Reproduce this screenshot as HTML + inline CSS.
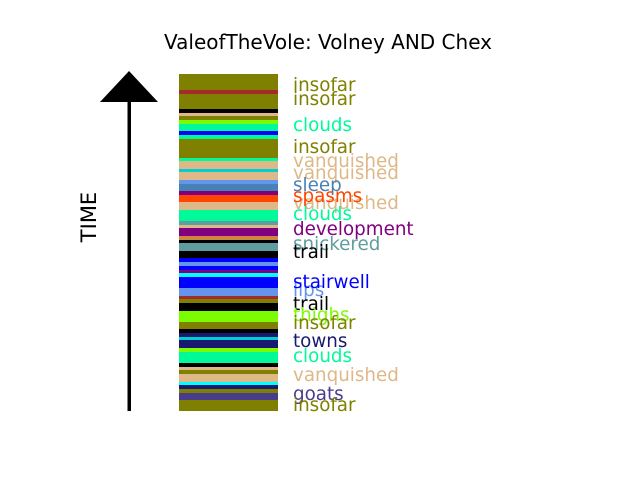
<!DOCTYPE html>
<html><head><meta charset="utf-8"><style>body{margin:0;background:#fff}svg{display:block}</style></head><body>
<svg width="640" height="480" xmlns="http://www.w3.org/2000/svg" font-family="DejaVu Sans, sans-serif">
<rect width="640" height="480" fill="#fff"/>
<text x="328" y="49" font-size="20" text-anchor="middle">ValeofTheVole: Volney AND Chex</text>
<text transform="translate(96,217) rotate(-90)" font-size="21" text-anchor="middle">TIME</text>
<rect x="127.5" y="100" width="3.5" height="311" fill="#000"/>
<polygon points="100,102 158,102 129,71" fill="#000"/>
<g>
<rect x="179" y="74" width="99" height="337" fill="#808000"/>
<rect x="179" y="90" width="99" height="4" fill="#a52a2a"/>
<rect x="179" y="109" width="99" height="4" fill="#000"/>
<rect x="179" y="113" width="99" height="3" fill="#deb887"/>
<rect x="179" y="120" width="99" height="4" fill="#7cfc00"/>
<rect x="179" y="124" width="99" height="7" fill="#00fa9a"/>
<rect x="179" y="131" width="99" height="4" fill="#0000ff"/>
<rect x="179" y="135" width="99" height="4" fill="#00fa9a"/>
<rect x="179" y="158" width="99" height="3" fill="#00fa9a"/>
<rect x="179" y="161" width="99" height="8" fill="#deb887"/>
<rect x="179" y="169" width="99" height="3" fill="#00ced1"/>
<rect x="179" y="172" width="99" height="8" fill="#deb887"/>
<rect x="179" y="180" width="99" height="4" fill="#6495ed"/>
<rect x="179" y="184" width="99" height="7" fill="#4682b4"/>
<rect x="179" y="191" width="99" height="4" fill="#800080"/>
<rect x="179" y="195" width="99" height="7" fill="#ff4500"/>
<rect x="179" y="202" width="99" height="8" fill="#deb887"/>
<rect x="179" y="210" width="99" height="11" fill="#00fa9a"/>
<rect x="179" y="221" width="99" height="4" fill="#5f9ea0"/>
<rect x="179" y="225" width="99" height="3" fill="#deb887"/>
<rect x="179" y="228" width="99" height="8" fill="#800080"/>
<rect x="179" y="236" width="99" height="4" fill="#cd853f"/>
<rect x="179" y="240" width="99" height="3" fill="#000"/>
<rect x="179" y="243" width="99" height="8" fill="#5f9ea0"/>
<rect x="179" y="251" width="99" height="7" fill="#000"/>
<rect x="179" y="258" width="99" height="4" fill="#0000ff"/>
<rect x="179" y="262" width="99" height="4" fill="#6495ed"/>
<rect x="179" y="266" width="99" height="4" fill="#0000ff"/>
<rect x="179" y="270" width="99" height="3" fill="#800080"/>
<rect x="179" y="273" width="99" height="4" fill="#00ffff"/>
<rect x="179" y="277" width="99" height="11" fill="#0000ff"/>
<rect x="179" y="288" width="99" height="8" fill="#6495ed"/>
<rect x="179" y="296" width="99" height="3" fill="#a52a2a"/>
<rect x="179" y="303" width="99" height="8" fill="#000"/>
<rect x="179" y="311" width="99" height="11" fill="#7cfc00"/>
<rect x="179" y="329" width="99" height="4" fill="#000"/>
<rect x="179" y="333" width="99" height="4" fill="#191970"/>
<rect x="179" y="337" width="99" height="3" fill="#00ced1"/>
<rect x="179" y="340" width="99" height="8" fill="#191970"/>
<rect x="179" y="348" width="99" height="4" fill="#7cfc00"/>
<rect x="179" y="352" width="99" height="11" fill="#00fa9a"/>
<rect x="179" y="363" width="99" height="4" fill="#000"/>
<rect x="179" y="367" width="99" height="3" fill="#deb887"/>
<rect x="179" y="374" width="99" height="8" fill="#deb887"/>
<rect x="179" y="382" width="99" height="3" fill="#00ffff"/>
<rect x="179" y="385" width="99" height="4" fill="#191970"/>
<rect x="179" y="393" width="99" height="7" fill="#483d8b"/>
</g>
<g font-size="18.3">
<text x="293" y="91" fill="#808000">insofar</text>
<text x="293" y="105" fill="#808000">insofar</text>
<text x="293" y="131" fill="#00fa9a">clouds</text>
<text x="293" y="153" fill="#808000">insofar</text>
<text x="293" y="167" fill="#deb887">vanquished</text>
<text x="293" y="179" fill="#deb887">vanquished</text>
<text x="293" y="191" fill="#4682b4">sleep</text>
<text x="293" y="209" fill="#deb887">vanquished</text>
<text x="293" y="202" fill="#ff4500">spasms</text>
<text x="293" y="220" fill="#00fa9a">clouds</text>
<text x="293" y="235" fill="#800080">development</text>
<text x="293" y="250" fill="#5f9ea0">snickered</text>
<text x="293" y="258" fill="#000">trail</text>
<text x="293" y="296" fill="#6495ed">lips</text>
<text x="293" y="288" fill="#0000ff">stairwell</text>
<text x="293" y="310" fill="#000">trail</text>
<text x="293" y="321" fill="#7cfc00">thighs</text>
<text x="293" y="329" fill="#808000">insofar</text>
<text x="293" y="347" fill="#191970">towns</text>
<text x="293" y="362" fill="#00fa9a">clouds</text>
<text x="293" y="381" fill="#deb887">vanquished</text>
<text x="293" y="400" fill="#483d8b">goats</text>
<text x="293" y="411" fill="#808000">insofar</text>
</g>
</svg>
</body></html>
